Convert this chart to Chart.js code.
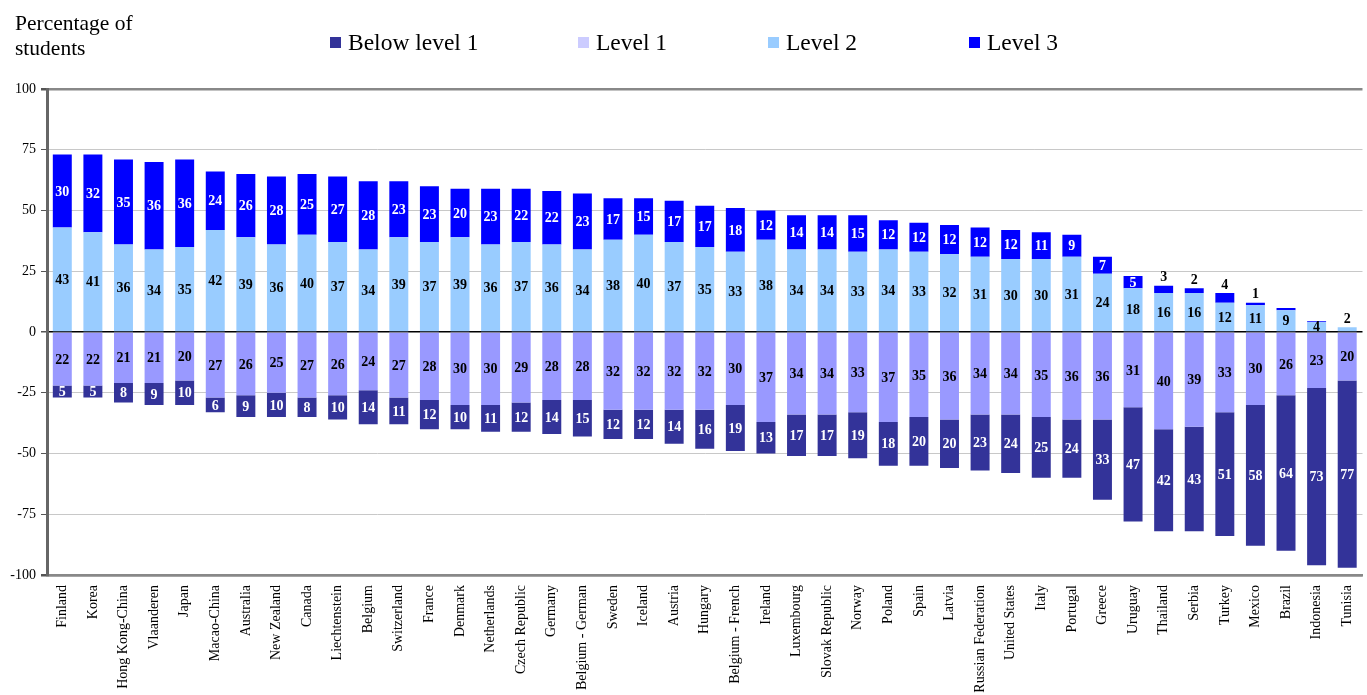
<!DOCTYPE html>
<html>
<head>
<meta charset="utf-8">
<script src="https://cdn.jsdelivr.net/npm/chart.js@4.4.1/dist/chart.umd.min.js"></script>
<style>
  body { margin: 0; overflow: hidden; background: #fff; font-family: "Liberation Serif", serif; }
  #wrap { position: relative; width: 1367px; height: 695px; overflow: hidden; }
  #graph { position: absolute; left: 0; top: 0; }
  .title { position: absolute; left: 15px; top: 11px; font-size: 21.5px; line-height: 25px; color: #000; }
  .key { position: absolute; top: 29px; font-size: 23.5px; line-height: 26px; white-space: nowrap; display: flex; align-items: center; }
  .key i { display: inline-block; width: 11px; height: 11px; margin-right: 7px; }
</style>
</head>
<body>
<div id="wrap">
  <canvas id="graph" width="1374" height="695"></canvas>
  <div class="title">Percentage of<br>students</div>
  <div class="key" style="left:330px"><i style="background:#333399"></i>Below level 1</div>
  <div class="key" style="left:578px"><i style="background:#ccccff"></i>Level 1</div>
  <div class="key" style="left:768px"><i style="background:#99ccff"></i>Level 2</div>
  <div class="key" style="left:969px"><i style="background:#0000ff"></i>Level 3</div>
</div>
<script>
const countries = [
  'Finland', 'Korea', 'Hong Kong-China', 'Vlaanderen', 'Japan', 'Macao-China', 'Australia',
  'New Zealand', 'Canada', 'Liechtenstein', 'Belgium', 'Switzerland', 'France', 'Denmark',
  'Netherlands', 'Czech Republic', 'Germany', 'Belgium - German', 'Sweden', 'Iceland', 'Austria',
  'Hungary', 'Belgium - French', 'Ireland', 'Luxembourg', 'Slovak Republic', 'Norway', 'Poland',
  'Spain', 'Latvia', 'Russian Federation', 'United States', 'Italy', 'Portugal', 'Greece',
  'Uruguay', 'Thailand', 'Serbia', 'Turkey', 'Mexico', 'Brazil', 'Indonesia', 'Tunisia'
]

// percentages per level, all positive; the two lower levels are plotted below zero
const level3 = [30, 32, 35, 36, 36, 24, 26, 28, 25, 27, 28, 23, 23, 20, 23, 22, 22, 23, 17, 15, 17, 17, 18, 12, 14, 14, 15, 12, 12, 12, 12, 12, 11, 9, 7, 5, 3, 2, 4, 1, 0.9, 0.4, 0]
const level2 = [43, 41, 36, 34, 35, 42, 39, 36, 40, 37, 34, 39, 37, 39, 36, 37, 36, 34, 38, 40, 37, 35, 33, 38, 34, 34, 33, 34, 33, 32, 31, 30, 30, 31, 24, 18, 16, 16, 12, 11, 9, 4, 2]
const level1 = [22, 22, 21, 21, 20, 27, 26, 25, 27, 26, 24, 27, 28, 30, 30, 29, 28, 28, 32, 32, 32, 32, 30, 37, 34, 34, 33, 37, 35, 36, 34, 34, 35, 36, 36, 31, 40, 39, 33, 30, 26, 23, 20]
const below1 = [5, 5, 8, 9, 10, 6, 9, 10, 8, 10, 14, 11, 12, 10, 11, 12, 14, 15, 12, 12, 14, 16, 19, 13, 17, 17, 19, 18, 20, 20, 23, 24, 25, 24, 33, 47, 42, 43, 51, 58, 64, 73, 77]

const yTicks = [-100, -75, -50, -25, 0, 25, 50, 75, 100]

const serif = '"Liberation Serif", "Times New Roman", serif'

// label colour inside each segment, and whether a small top segment gets its label above the bar
const labelStyle = {
  'Level 1': { color: '#000', above: () => false },
  'Below level 1': { color: '#fff', above: () => false },
  'Level 2': { color: '#000', above: i => level3[i] === 0 && level2[i] < 5 },
  'Level 3': { color: '#fff', above: i => level3[i] < 5 }
}

const segmentLabels = {
  id: 'segmentLabels',
  afterDatasetsDraw(chart) {
    const ctx = chart.ctx
    ctx.save()
    ctx.font = 'bold 14px ' + serif
    ctx.textAlign = 'center'
    chart.data.datasets.forEach((ds, di) => {
      const style = labelStyle[ds.label]
      chart.getDatasetMeta(di).data.forEach((bar, i) => {
        const v = ds.values[i]
        if (v < 1) return
        const { x, y, base } = bar.getProps(['x', 'y', 'base'], true)
        if (style.above(i)) {
          ctx.fillStyle = '#000'
          ctx.textBaseline = 'bottom'
          ctx.fillText(String(v), x, Math.min(y, base) - 1)
        } else {
          ctx.fillStyle = style.color
          ctx.textBaseline = 'middle'
          ctx.fillText(String(v), x, (y + base) / 2 + 1)
        }
      })
    })
    ctx.restore()
  }
}

const graph = document.getElementById('graph')

const myChart = new Chart(graph, {
  type: 'bar',
  data: {
    labels: countries,
    datasets: [
      { label: 'Level 1', values: level1, data: level1.map(v => -v), backgroundColor: '#9999ff' },
      { label: 'Below level 1', values: below1, data: below1.map(v => -v), backgroundColor: '#333399' },
      { label: 'Level 2', values: level2, data: level2, backgroundColor: '#99ccff' },
      { label: 'Level 3', values: level3, data: level3, backgroundColor: '#0000ff' }
    ]
  },
  options: {
    responsive: false,
    animation: false,
    devicePixelRatio: 1,
    layout: { padding: { top: 89, left: 0, right: 0, bottom: 0 } },
    datasets: { bar: { categoryPercentage: 1, barPercentage: 0.62, borderWidth: 0 } },
    plugins: { legend: { display: false }, tooltip: { enabled: false } },
    scales: {
      x: {
        stacked: true,
        afterFit: s => { s.height = 120 },
        grid: { display: false, drawTicks: false },
        border: { display: true, color: '#888', width: 2.5 },
        ticks: {
          autoSkip: false, maxRotation: 90, minRotation: 90, padding: 10,
          color: '#000', font: { family: serif, size: 14 }
        }
      },
      y: {
        stacked: true,
        min: -100,
        max: 100,
        afterFit: s => { s.width = 47 },
        afterBuildTicks: s => { s.ticks = yTicks.map(v => ({ value: v })) },
        grid: {
          color: c => c.tick.value === 0 ? '#000' : Math.abs(c.tick.value) === 100 ? '#888' : '#c8c8c8',
          lineWidth: c => c.tick.value === 0 ? 1.5 : Math.abs(c.tick.value) === 100 ? 2.5 : 1,
          tickColor: '#555',
          tickLength: 6
        },
        border: { display: true, color: '#666', width: 3 },
        ticks: { padding: 5, color: '#000', font: { family: serif, size: 14 } }
      }
    }
  },
  plugins: [segmentLabels]
})
</script>
</body>
</html>
